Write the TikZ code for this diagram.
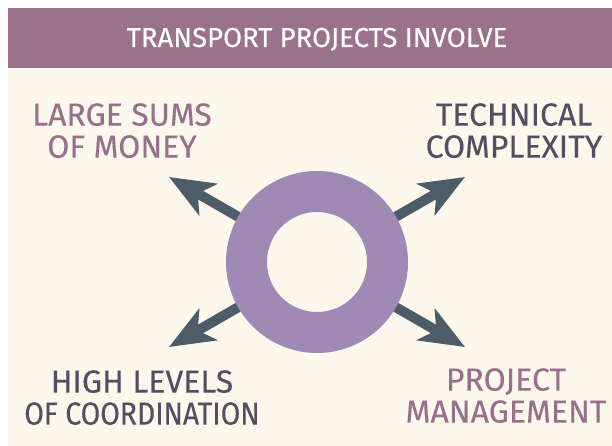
\documentclass[tikz,border=0pt]{standalone}
\usepackage{fontspec}
\setmainfont{Fira Sans}[FakeBold=0.25]
\newfontfamily\narrowfont{Fira Sans}[FakeStretch=0.885, FakeBold=0.25]
\usetikzlibrary{arrows.meta}
\definecolor{bandc}{RGB}{154,114,139}
\definecolor{creamc}{RGB}{253,248,236}
\definecolor{ringc}{RGB}{160,138,181}
\definecolor{arrowc}{RGB}{76,92,104}
\definecolor{mauvetxt}{RGB}{152,112,140}
\definecolor{darktxt}{RGB}{84,78,98}
\begin{document}
\begin{tikzpicture}[x=1bp,y=-1bp,
    lbl/.style={inner sep=0pt, anchor=north, align=center, font=\fontsize{32bp}{32bp}\selectfont},
    arr/.style={-{Stealth[length=45bp,width=36bp,inset=12bp]}, line width=10bp, draw=arrowc}]
  \useasboundingbox (0,0) rectangle (612,446);
  \fill[creamc] (8,68) rectangle (612,446);
  \fill[bandc] (8,8) rectangle (612,68);
  \node[anchor=base, inner sep=0pt, white, font=\fontsize{27.5bp}{27.5bp}\selectfont] (title) at (317,47) {TRANSPORT PROJECTS INVOLVE};
  % ring and its four arrows
  \node[circle, draw=ringc, line width=41bp, minimum size=141bp, inner sep=0pt, fill=creamc] (ring) at (317,262) {};
  \coordinate (nw) at (169,177);
  \coordinate (ne) at (465,177);
  \coordinate (sw) at (169,347);
  \coordinate (se) at (465,347);
  \foreach \c in {nw,ne,sw,se} \draw[arr] (ring) -- (\c);
  % labels
  \node[lbl, mauvetxt] (money) at (122,103) {LARGE SUMS\\OF MONEY};
  \node[lbl, darktxt] (tech) at (514,103) {TECHNICAL\\COMPLEXITY};
  \node[lbl, darktxt] (coord) at (142,370) {HIGH LEVELS\\{\narrowfont OF COORDINATION}};
  \node[lbl, mauvetxt] (mgmt) at (506,368) {PROJECT\\MANAGEMENT};
\end{tikzpicture}
\end{document}
